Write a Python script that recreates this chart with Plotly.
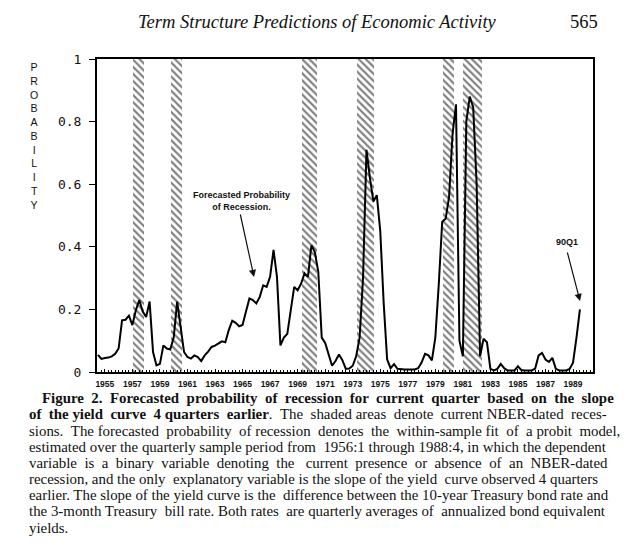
import plotly.graph_objects as go

# ---------------- data ----------------
start_year = 1955
# forecasted probability of recession, quarterly 1955Q1 .. 1990Q1
prob = [
    0.055, 0.042, 0.045, 0.046, 0.050, 0.058, 0.075, 0.165, 0.167, 0.180,
    0.150, 0.197, 0.230, 0.193, 0.176, 0.225, 0.064, 0.021, 0.026, 0.085,
    0.075, 0.072, 0.110, 0.225, 0.145, 0.064, 0.048, 0.043, 0.053, 0.048,
    0.035, 0.053, 0.065, 0.080, 0.084, 0.090, 0.098, 0.095, 0.134, 0.164,
    0.157, 0.146, 0.150, 0.193, 0.235, 0.230, 0.219, 0.240, 0.277, 0.272,
    0.304, 0.390, 0.304, 0.085, 0.110, 0.122, 0.197, 0.272, 0.261, 0.282,
    0.315, 0.304, 0.405, 0.383, 0.320, 0.110, 0.093, 0.060, 0.020, 0.035,
    0.056, 0.038, 0.010, 0.011, 0.020, 0.050, 0.110, 0.300, 0.710, 0.620,
    0.545, 0.565, 0.450, 0.220, 0.040, 0.012, 0.025, 0.010, 0.008, 0.008,
    0.008, 0.008, 0.008, 0.012, 0.030, 0.058, 0.053, 0.037, 0.110, 0.280,
    0.480, 0.490, 0.560, 0.760, 0.855, 0.100, 0.050, 0.800, 0.880, 0.845,
    0.600, 0.050, 0.106, 0.095, 0.010, 0.005, 0.010, 0.026, 0.012, 0.005,
    0.005, 0.005, 0.018, 0.006, 0.005, 0.005, 0.005, 0.011, 0.053, 0.061,
    0.040, 0.032, 0.045, 0.010, 0.005, 0.005, 0.005, 0.010, 0.030, 0.110,
    0.200,
]
quarters = [f"{start_year + i // 4}Q{i % 4 + 1}" for i in range(len(prob))]
t = [start_year + i / 4 for i in range(len(prob))]

# NBER recession bands (decimal years, as shaded in the figure)
rec_start = [1957.56, 1960.32, 1969.84, 1973.79, 1980.03, 1981.53]
rec_end = [1958.36, 1961.12, 1970.88, 1975.07, 1980.85, 1982.87]

tick_years = list(range(1955, 1990, 2))
y_ticks = [0, 0.2, 0.4, 0.6, 0.8, 1]
y_ticktext = ["0", "0.2", "0.4", "0.6", "0.8", "1"]

header = "Term Structure Predictions of Economic Activity"
page_no = "565"
caption_lines = [
    "<b>Figure 2. Forecasted probability of recession for current quarter based on the slope</b>",
    "<b>of the yield curve 4 quarters earlier</b>. The shaded areas denote current NBER-dated reces-",
    "sions. The forecasted probability of recession denotes the within-sample fit of a probit model,",
    "estimated over the quarterly sample period from 1956:1 through 1988:4, in which the dependent",
    "variable is a binary variable denoting the current presence or absence of an NBER-dated",
    "recession, and the only explanatory variable is the slope of the yield curve observed 4 quarters",
    "earlier. The slope of the yield curve is the difference between the 10-year Treasury bond rate and",
    "the 3-month Treasury bill rate. Both rates are quarterly averages of annualized bond equivalent",
    "yields.",
]

# ---------------- layout geometry ----------------
W, H = 640, 546
L, R, T, B = 97, 593, 59, 372
PW, PH = R - L, B - T

# extra word-space (non-breaking spaces) per caption line to emulate justification
cap_extra_spaces = [12, 9, 9, 1, 14, 2, 1, 3, 0]


def px(xp):
    return (xp - L) / PW


def py(yp):
    return (B - yp) / PH


def justify(line, n_extra):
    words = line.split(" ")
    gaps = len(words) - 1
    if n_extra <= 0 or gaps <= 0:
        return line
    add = [0] * gaps
    for i in range(n_extra):
        add[min(gaps - 1, int((i + 0.5) * gaps / n_extra))] += 1
    out = words[0]
    for g in range(gaps):
        out += " " + "\u00a0" * add[g] + words[g + 1]
    return out


fig = go.Figure()

# hatched recession bands
fig.add_trace(go.Bar(
    x=[(s + e) / 2 for s, e in zip(rec_start, rec_end)],
    y=[1] * len(rec_start),
    width=[e - s for s, e in zip(rec_start, rec_end)],
    marker=dict(color="white", line=dict(width=0),
                pattern=dict(shape="\\", fgcolor="black", bgcolor="white",
                             size=5, solidity=0.42, fillmode="overlay")),
    hoverinfo="skip", showlegend=False,
))

# probability line
fig.add_trace(go.Scatter(
    x=t, y=prob, mode="lines", text=quarters,
    line=dict(color="black", width=2), showlegend=False,
))

ann = []
# header
ann.append(dict(x=px(317), y=py(22), xref="paper", yref="paper",
                text="<i>" + header + "</i>",
                showarrow=False, xanchor="center", yanchor="middle",
                font=dict(family="Liberation Serif", size=18.5, color="#111")))
ann.append(dict(x=px(584), y=py(22), xref="paper", yref="paper", text=page_no,
                showarrow=False, xanchor="center", yanchor="middle",
                font=dict(family="Liberation Serif", size=18.5, color="#111")))

# vertical y-axis title
ann.append(dict(x=px(34), y=py(136), xref="paper", yref="paper",
                text="<br>".join(list("PROBABILITY")),
                showarrow=False, xanchor="center", yanchor="middle",
                font=dict(family="Liberation Sans", size=10.6, color="#111")))

# in-plot labels
ann.append(dict(x=px(241), y=py(201), xref="paper", yref="paper",
                text="<b>Forecasted Probability<br>of Recession.</b>",
                showarrow=False, xanchor="center", yanchor="middle",
                font=dict(family="Liberation Sans", size=9, color="#111")))
ann.append(dict(x=px(254), y=py(277), xref="paper", yref="paper", text="",
                showarrow=True, ax=-14, ay=-64, arrowhead=2, arrowsize=1.2,
                arrowwidth=1.2, arrowcolor="#111"))
ann.append(dict(x=px(567), y=py(242), xref="paper", yref="paper",
                text="<b>90Q1</b>", showarrow=False, xanchor="center",
                yanchor="middle",
                font=dict(family="Liberation Sans", size=9, color="#111")))
ann.append(dict(x=px(580), y=py(301), xref="paper", yref="paper", text="",
                showarrow=True, ax=-13, ay=-50, arrowhead=2, arrowsize=1.2,
                arrowwidth=1.2, arrowcolor="#111"))

# caption
cap_y = [398, 414, 431, 447, 463, 479, 495, 511, 528]
for i, (line, yy) in enumerate(zip(caption_lines, cap_y)):
    ann.append(dict(x=px(40 if i == 0 else 27), y=py(yy), xref="paper",
                    yref="paper", text=justify(line, cap_extra_spaces[i]),
                    showarrow=False, xanchor="left", yanchor="middle",
                    font=dict(family="Liberation Serif", size=14.9,
                              color="#111")))

fig.update_layout(
    width=W, height=H,
    margin=dict(l=L, r=W - R, t=T, b=H - B, pad=0),
    paper_bgcolor="white", plot_bgcolor="white",
    bargap=0, barmode="overlay",
    annotations=ann,
    xaxis=dict(
        range=[1954.93, 1990.95],
        tickmode="array",
        tickvals=[y + 0.5 for y in tick_years],
        ticktext=[f"<b>{y}</b>" for y in tick_years],
        ticks="inside", ticklen=3, tickwidth=1, tickcolor="black",
        minor=dict(ticks="inside", tickmode="linear", tick0=1955, dtick=0.25,
                   ticklen=2, tickwidth=1, tickcolor="black"),
        showline=True, linewidth=2, linecolor="black", mirror=True,
        showgrid=False, zeroline=False,
        tickfont=dict(family="Liberation Sans", size=8.5, color="#111"),
        ticklabelstandoff=3,
    ),
    yaxis=dict(
        range=[0, 1],
        tickmode="array", tickvals=y_ticks, ticktext=y_ticktext,
        ticks="outside", ticklen=6, tickwidth=1, tickcolor="black",
        showline=True, linewidth=2, linecolor="black", mirror=True,
        showgrid=False, zeroline=False,
        tickfont=dict(family="DejaVu Sans Mono", size=13, color="#111"),
        ticklabelstandoff=5,
    ),
)

fig.write_html("out.html", config={"displayModeBar": False},
               post_script="document.body.style.margin='0';")
